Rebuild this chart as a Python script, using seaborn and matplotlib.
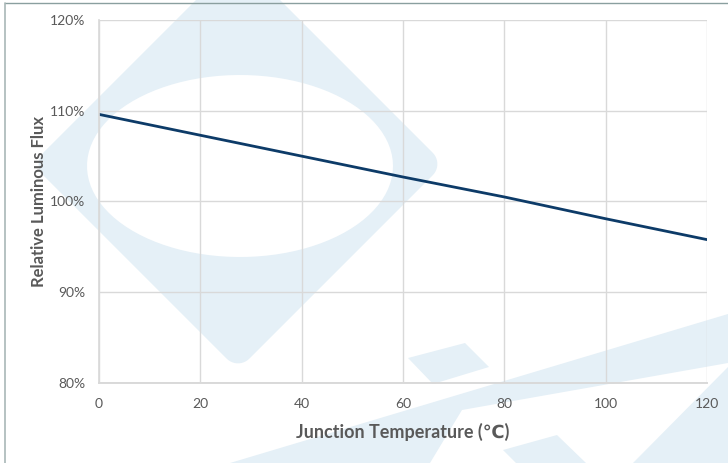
import numpy as np
import pandas as pd
import matplotlib
matplotlib.use("Agg")
import matplotlib.pyplot as plt
import seaborn as sns
from matplotlib.path import Path
from matplotlib.patches import PathPatch, Polygon
from matplotlib.ticker import FuncFormatter

# ---- data ----
temperature = [0, 20, 40, 60, 80, 100, 120]
relative_flux = [109.6, 107.3, 105.0, 102.7, 100.5, 98.1, 95.8]
x_ticks = [0, 20, 40, 60, 80, 100, 120]
y_ticks = [80, 90, 100, 110, 120]
x_label = "Junction Temperature (℃)"
y_label = "Relative Luminous Flux"

df = pd.DataFrame({"T": temperature, "F": relative_flux})

sns.set_theme(style="white")
plt.rcParams["font.family"] = ["Lato", "DejaVu Sans"]

W, H = 728, 463
fig = plt.figure(figsize=(W / 100, H / 100), dpi=100)
fig.patch.set_facecolor("white")

# ---- background watermark (pixel coordinates) ----
bg = fig.add_axes([0, 0, 1, 1], zorder=0)
bg.set_xlim(0, W)
bg.set_ylim(H, 0)
bg.axis("off")
wm = "#e5f0f7"

# rounded diamond with elliptical hole
cx, cy = 238, 164
s = 206 / np.sqrt(2)
r = 16
pts = []
for (sx, sy, a0) in [(1, 1, 0), (-1, 1, 90), (-1, -1, 180), (1, -1, 270)]:
    th = np.radians(np.linspace(a0, a0 + 90, 12))
    px = sx * (s - r) + r * np.cos(th)
    py = sy * (s - r) + r * np.sin(th)
    pts.extend(zip(px, py))
pts = np.array(pts)
rot = np.radians(45)
R = np.array([[np.cos(rot), -np.sin(rot)], [np.sin(rot), np.cos(rot)]])
dia = pts @ R.T + np.array([cx, cy])
t = np.linspace(0, 2 * np.pi, 100)[::-1]
ell = np.column_stack([240 + 153 * np.cos(t), 166 + 91 * np.sin(t)])
p1 = Path(np.vstack([dia, dia[:1]]), [Path.MOVETO] + [Path.LINETO] * (len(dia) - 1) + [Path.CLOSEPOLY])
p2 = Path(np.vstack([ell, ell[:1]]), [Path.MOVETO] + [Path.LINETO] * (len(ell) - 1) + [Path.CLOSEPOLY])
bg.add_patch(PathPatch(Path.make_compound_path(p1, p2), facecolor=wm, edgecolor="none"))

# lower shapes
bg.add_patch(Polygon([(230, 463), (728, 314), (728, 363), (462, 410), (430, 463)], closed=True, facecolor=wm, edgecolor="none"))
bg.add_patch(Polygon([(408, 358), (465, 343), (489, 367), (433, 384)], closed=True, facecolor=wm, edgecolor="none"))
bg.add_patch(Polygon([(503, 450), (557, 435), (586, 463), (516, 463)], closed=True, facecolor=wm, edgecolor="none"))
bg.add_patch(Polygon([(633, 463), (728, 367), (728, 463)], closed=True, facecolor=wm, edgecolor="none"))

# outer frame lines
bg.plot([5, W], [3, 3], color="#8a9f9f", lw=1.0)
bg.plot([5, 5], [3, H], color="#a9b7b7", lw=1.2)

# ---- main chart ----
ax = fig.add_axes([99 / W, 1 - 383 / H, (707 - 99) / W, (383 - 20) / H], zorder=1)
ax.set_facecolor("none")
sns.lineplot(data=df, x="T", y="F", ax=ax, color="#0d3b68", linewidth=2.0)

ax.set_xlim(0, 120)
ax.set_ylim(80, 120)
ax.set_xticks(x_ticks)
ax.set_yticks(y_ticks)
ax.yaxis.set_major_formatter(FuncFormatter(lambda v, p: f"{v:.0f}%"))
ax.grid(True, color="#d9d9d9", linewidth=1.0)
ax.set_axisbelow(True)
for side in ["top", "right"]:
    ax.spines[side].set_visible(False)
ax.spines["left"].set_color("#d9d9d9")
ax.spines["bottom"].set_color("#d9d9d9")
ax.spines["bottom"].set_linewidth(1.4)
ax.tick_params(axis="both", length=0, labelsize=10, labelcolor="#595959")
ax.tick_params(axis="x", pad=11)
ax.tick_params(axis="y", pad=10)

ax.set_xlabel(x_label, fontsize=13, fontweight="bold", color="#595959", labelpad=9)
ax.set_ylabel(y_label, fontsize=12, fontweight="bold", color="#595959", labelpad=2)

fig.savefig("out.png", dpi=100, facecolor="white")
